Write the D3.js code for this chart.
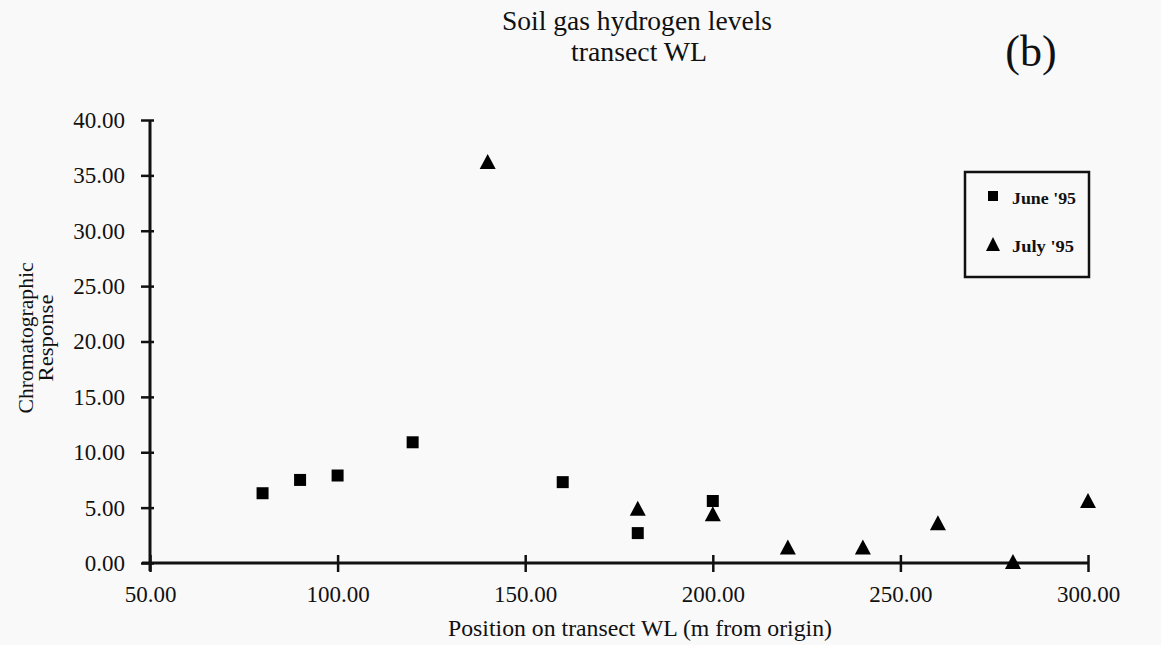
<!DOCTYPE html>
<html>
<head>
<meta charset="utf-8">
<script src="https://cdn.jsdelivr.net/npm/d3@7"></script>
<style>
  html, body { margin: 0; padding: 0; background: #f9f9f9; }
  svg { display: block; }
  text { font-family: "Liberation Serif", "Times New Roman", serif; fill: #111; }
</style>
</head>
<body>
<svg id="chart" width="1161" height="645"></svg>
<script>
// ---- data ----
const seriesNames = ["June '95", "July '95"];
const juneX = [80, 90, 100, 120, 160, 180, 200];
const juneY = [6.3, 7.5, 7.9, 10.9, 7.3, 2.7, 5.6];
const julyX = [140, 180, 200, 220, 240, 260, 280, 300];
const julyY = [36.2, 4.9, 4.4, 1.4, 1.4, 3.6, 0.1, 5.6];
const xTicks = [50, 100, 150, 200, 250, 300];
const yTicks = [0, 5, 10, 15, 20, 25, 30, 35, 40];
const titleLines = ["Soil gas hydrogen levels", "transect WL"];
const panelLabel = "(b)";
const xTitle = "Position on transect WL (m from origin)";
const yTitleLines = ["Chromatographic", "Response"];

// ---- layout ----
const svg = d3.select("#chart");
const x = d3.scaleLinear().domain([50, 300]).range([150, 1088]);
const y = d3.scaleLinear().domain([0, 40]).range([563, 120]);
const fmt = d3.format(".2f");

// title
svg.append("text").attr("x", 637).attr("y", 30).attr("text-anchor", "middle")
  .style("font-size", "27px").attr("textLength", 270).attr("lengthAdjust", "spacingAndGlyphs")
  .text(titleLines[0]);
svg.append("text").attr("x", 639).attr("y", 61).attr("text-anchor", "middle")
  .style("font-size", "27px").attr("textLength", 136).attr("lengthAdjust", "spacingAndGlyphs")
  .text(titleLines[1]);
svg.append("text").attr("x", 1031).attr("y", 66).attr("text-anchor", "middle")
  .style("font-size", "44px").text(panelLabel);

// axes
const xAxis = svg.append("g").attr("transform", `translate(0,${y(0)})`)
  .call(d3.axisBottom(x).tickValues(xTicks).tickFormat(fmt).tickSize(9).tickPadding(14).tickSizeOuter(0));
const yAxis = svg.append("g").attr("transform", `translate(${x(50)},0)`)
  .call(d3.axisLeft(y).tickValues(yTicks).tickFormat(fmt).tickSize(9).tickPadding(16).tickSizeOuter(0));

[xAxis, yAxis].forEach(g => {
  g.select(".domain").attr("stroke", "#111").attr("stroke-width", 3);
  g.selectAll(".tick line").attr("stroke", "#111").attr("stroke-width", 2.5);
  g.selectAll(".tick text").style("font-size", "23px")
    .style("font-family", "'Liberation Serif', serif").attr("fill", "#111");
});
xAxis.selectAll(".tick line").attr("y1", -8).attr("y2", 9);
yAxis.selectAll(".tick line").attr("x1", 4).attr("x2", -9);
xAxis.select(".domain").attr("d", `M${x(50) - 8},0H${x(300)}`);
yAxis.select(".domain").attr("d", `M0,${y(40)}V${y(0) + 8}`);

// axis titles
svg.append("text").attr("x", 640).attr("y", 636).attr("text-anchor", "middle")
  .style("font-size", "23px").attr("textLength", 384).attr("lengthAdjust", "spacingAndGlyphs")
  .text(xTitle);
const yt = svg.append("g").attr("transform", "translate(33,338) rotate(-90)");
yt.append("text").attr("x", 0).attr("y", 0).attr("text-anchor", "middle")
  .style("font-size", "22px").attr("textLength", 151).attr("lengthAdjust", "spacingAndGlyphs")
  .text(yTitleLines[0]);
yt.append("text").attr("x", 0).attr("y", 20).attr("text-anchor", "middle")
  .style("font-size", "22px").attr("textLength", 87).attr("lengthAdjust", "spacingAndGlyphs")
  .text(yTitleLines[1]);

// markers
const squarePath = "M-6,-6H6V6H-6Z";
const trianglePath = "M0,-8L8,7H-8Z";

const june = juneX.map((d, i) => ({ x: d, y: juneY[i] }));
const july = julyX.map((d, i) => ({ x: d, y: julyY[i] }));

svg.append("g").selectAll("path").data(june).join("path")
  .attr("d", squarePath)
  .attr("transform", d => `translate(${x(d.x)},${y(d.y)})`)
  .attr("fill", "#000");

svg.append("g").selectAll("path").data(july).join("path")
  .attr("d", trianglePath)
  .attr("transform", d => `translate(${x(d.x)},${y(d.y)})`)
  .attr("fill", "#000");

// legend
const lg = svg.append("g").attr("transform", "translate(965,172)");
lg.append("rect").attr("x", 0).attr("y", 0).attr("width", 124).attr("height", 105)
  .attr("fill", "none").attr("stroke", "#111").attr("stroke-width", 2.5);
lg.append("path").attr("d", "M-5,-5H5V5H-5Z").attr("transform", "translate(28,24)").attr("fill", "#000");
lg.append("text").attr("x", 47).attr("y", 32).style("font-size", "17px").style("font-weight", "bold")
  .attr("textLength", 64).attr("lengthAdjust", "spacingAndGlyphs").text(seriesNames[0]);
lg.append("path").attr("d", "M0,-8L7,6H-7Z").attr("transform", "translate(28,73)").attr("fill", "#000");
lg.append("text").attr("x", 47).attr("y", 80).style("font-size", "17px").style("font-weight", "bold")
  .attr("textLength", 62).attr("lengthAdjust", "spacingAndGlyphs").text(seriesNames[1]);
</script>
</body>
</html>
